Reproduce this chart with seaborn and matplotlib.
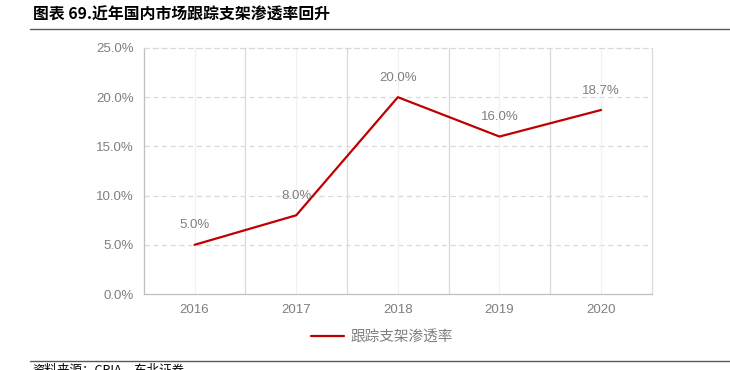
import matplotlib
matplotlib.use("Agg")
import matplotlib.pyplot as plt
import seaborn as sns
import pandas as pd
from matplotlib.lines import Line2D

# DATA
years = ["2016", "2017", "2018", "2019", "2020"]
rate = [5.0, 8.0, 20.0, 16.0, 18.7]
yticks = [0, 5, 10, 15, 20, 25]
series_name = "跟踪支架渗透率"
title = "图表 69.近年国内市场跟踪支架渗透率回升"
source = "资料来源：CPIA，东北证券"

# STYLING
sns.set_theme(style="white")
plt.rcParams["font.family"] = ["Liberation Sans", "Noto Sans CJK SC", "DejaVu Sans"]

df = pd.DataFrame({"pos": range(len(years)), "rate": rate})

fig = plt.figure(figsize=(7.3, 3.7), dpi=100)
ax = fig.add_axes([0.197, 0.2054, 0.696, 0.6649])

sns.lineplot(data=df, x="pos", y="rate", color="#c00000", linewidth=1.6, ax=ax)

ax.set_xlim(-0.5, len(years) - 0.5)
ax.set_ylim(0, 25)
ax.set_yticks(yticks)
ax.set_yticklabels([f"{v:.1f}%" for v in yticks])
ax.set_xticks(range(len(years)))
ax.set_xticklabels(years)
ax.set_xlabel("")
ax.set_ylabel("")
ax.tick_params(axis="both", colors="#7f7f7f", labelsize=9.5, length=0, pad=7)

# grid
for v in yticks[1:-1]:
    ax.axhline(v, color="#d9d9d9", linestyle=(0, (4, 3)), linewidth=0.9, zorder=0)
for i in range(len(years)):
    ax.axvline(i, color="#f0f0f0", linewidth=0.9, zorder=0)
for i in range(1, len(years)):
    ax.axvline(i - 0.5, color="#d9d9d9", linewidth=0.9, zorder=0)

for side, sp in ax.spines.items():
    sp.set_visible(True)
    sp.set_color("#d9d9d9")
    sp.set_linewidth(0.9)
ax.spines["left"].set_color("#bfbfbf")
ax.spines["bottom"].set_color("#bfbfbf")
ax.spines["top"].set_linestyle((0, (4, 3)))

for i, v in enumerate(rate):
    ax.annotate(f"{v:.1f}%", (i, v), xytext=(0, 14), textcoords="offset points",
                ha="center", va="center", fontsize=9.5, color="#7f7f7f")

handle = Line2D([], [], color="#c00000", linewidth=1.6)
fig.legend([handle], [series_name], loc="center", bbox_to_anchor=(0.523, 0.089),
           frameon=False, labelcolor="#7f7f7f", handlelength=2.3,
           handletextpad=0.4, prop={"family": ["Noto Sans CJK SC"], "size": 10.5})

# header and footer
fig.text(0.045, 1 - 15 / 370, title, fontsize=11.4, fontweight="bold", color="black",
         va="center", ha="left", family=["Noto Sans CJK SC"])
fig.add_artist(Line2D([30 / 730, 1], [1 - 29 / 370] * 2, color="#595959", linewidth=1.0))
fig.add_artist(Line2D([30 / 730, 1], [1 - 361 / 370] * 2, color="#595959", linewidth=1.0))
fig.text(0.045, 1 - 364 / 370, source, fontsize=9, color="black", va="top", ha="left",
         family=["Noto Sans CJK SC"])

fig.savefig("out.png", dpi=100)
